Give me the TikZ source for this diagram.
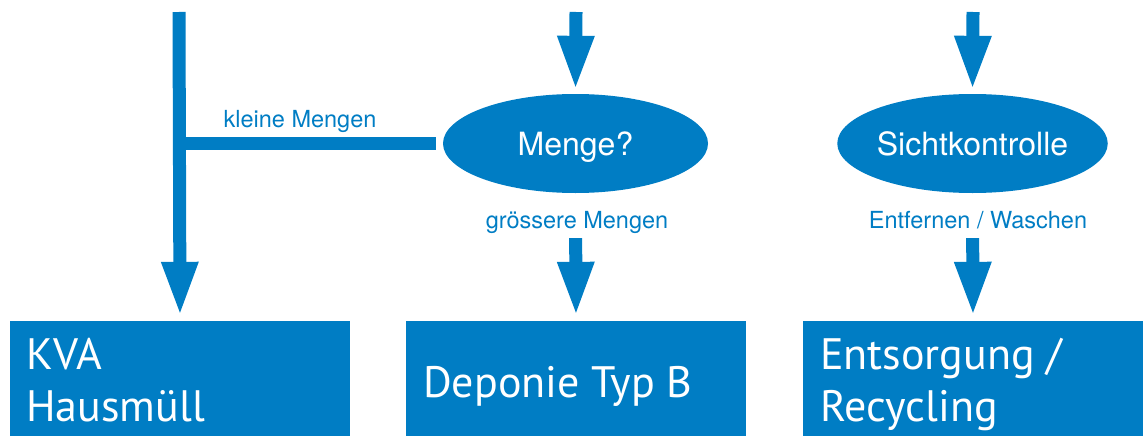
\documentclass[tikz,border=0pt]{standalone}
\usepackage{fontspec}
\setmainfont{TeX Gyre Heros}
\newfontfamily\boxfont{PT Sans}
\usetikzlibrary{arrows.meta,shapes.geometric}
\definecolor{kblue}{RGB}{0,125,196}
\tikzset{
  flow/.style={draw=kblue, line width=13pt, line cap=butt,
    -{Triangle[width=38pt,length=51pt,line width=0pt]}},
  bar/.style={draw=kblue, line width=13pt, line cap=butt},
  oval/.style={ellipse, fill=kblue, minimum width=265pt, minimum height=99pt,
    inner sep=0pt, text=white, font=\fontsize{32}{38}\selectfont,
    text height=23pt, text depth=0pt},
  target/.style={rectangle, fill=kblue, minimum width=340pt, minimum height=115pt,
    inner sep=0pt},
  boxtext/.style={anchor=base west, align=left, inner sep=0pt, text=white,
    font=\boxfont\fontsize{44}{52}\selectfont},
  lbl/.style={anchor=base, inner sep=0pt, text=kblue,
    font=\fontsize{23.5}{28}\selectfont}
}
\begin{document}
\begin{tikzpicture}[x=1pt,y=-1pt]
\useasboundingbox (0,0) rectangle (1147,436);
% top free ends
\coordinate (topL) at (179,12);
\coordinate (topM) at (576,12);
\coordinate (topR) at (973,12);
% decisions
\node[oval] (menge) at (575.5,143.5) {Menge?};
\node[oval] (sicht) at (972.5,143.5) {Sichtkontrolle};
% targets
\node[target] (kva) at (180,378.5) {};
\node[target] (depo) at (576,378.5) {};
\node[target] (ents) at (973,378.5) {};
\node[boxtext] (kvat) at (26,421) {KVA\\Hausmüll};
\node[boxtext] (depot) at (423,397) {Deponie Typ B};
\node[boxtext] (entst) at (820,421) {Entsorgung /\\Recycling};
% connectors
\draw[flow, shorten >=8pt] (topL) -- (kva.north);
\draw[bar, shorten <=7pt] (menge.west) -- (topL |- menge.west);
\draw[flow, shorten >=7pt] (topM) -- (menge.north);
\draw[flow, shorten <=45pt, shorten >=8pt] (menge.south) -- (depo.north);
\draw[flow, shorten >=7pt] (topR) -- (sicht.north);
\draw[flow, shorten <=45pt, shorten >=8pt] (sicht.south) -- (ents.north);
% labels
\node[lbl] (lklein) at (300,127) {kleine Mengen};
\node[lbl] (lgross) at (577,228) {grössere Mengen};
\node[lbl] (lentf) at (978,228) {Entfernen / Waschen};
\end{tikzpicture}
\end{document}
